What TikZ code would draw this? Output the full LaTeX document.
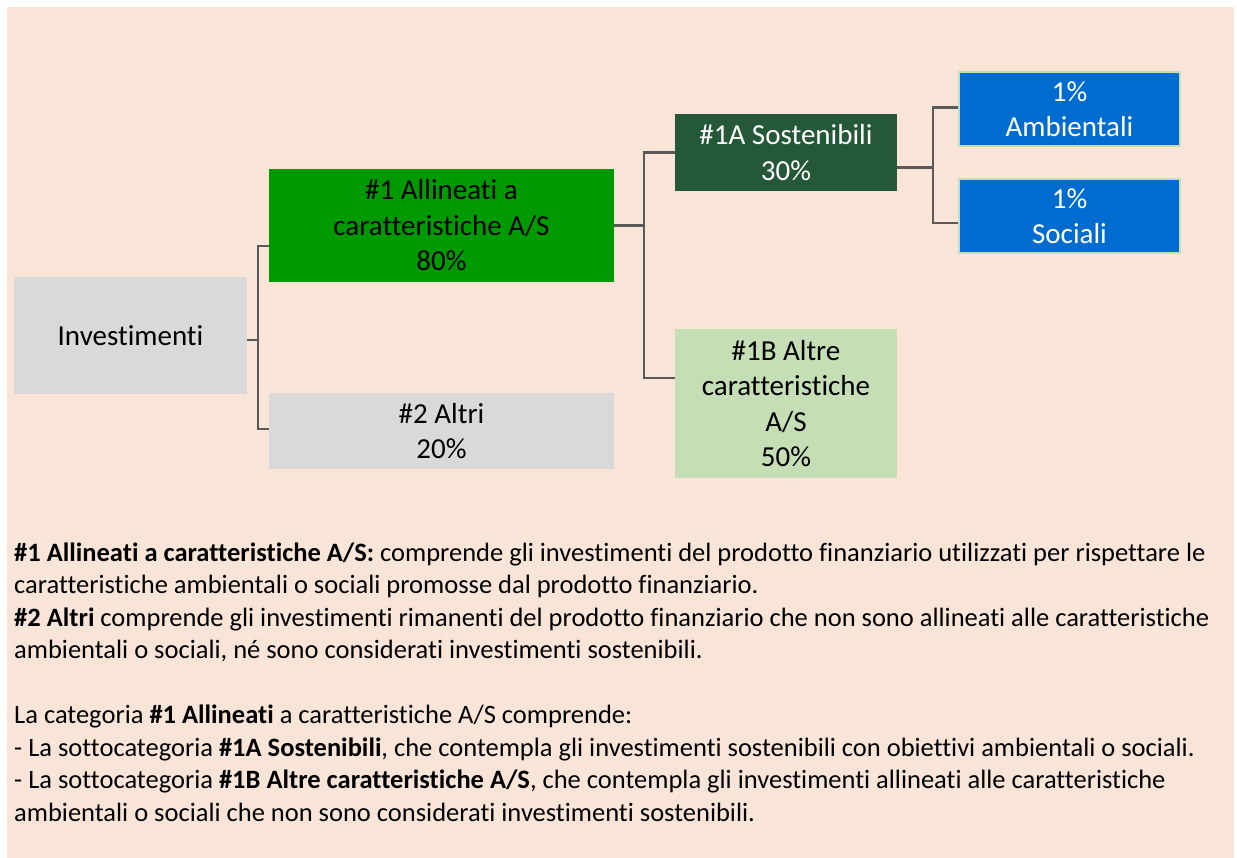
\documentclass[tikz,border=0pt]{standalone}
\usepackage{fontspec}
\setmainfont{Carlito}[RawFeature={-liga}]
\usepackage{tikz}
\definecolor{sfondo}{HTML}{F8E5D8}
\definecolor{grigio}{HTML}{D9D9D9}
\definecolor{verde}{HTML}{009900}
\definecolor{verdescuro}{HTML}{245838}
\definecolor{verdechiaro}{HTML}{C5DEB5}
\definecolor{blu}{HTML}{006CCF}
\definecolor{linea}{HTML}{595959}

\begin{document}
\begin{tikzpicture}[x=1pt, y=-1pt,
  box/.style={inner sep=0pt, align=center, font=\fontsize{29}{35.5}\selectfont},
  conn/.style={draw=linea, line width=2.5pt},
  riga/.style={anchor=base west, inner sep=0pt, font=\fontsize{26.5}{32.5}\selectfont}]
  \useasboundingbox (0,0) rectangle (1237,858);
  \fill[white] (0,0) rectangle (1237,858);
  \fill[sfondo] (7,7) rectangle (1234,858);
  % 1. Investimenti
  \node[box, fill=grigio, minimum width=233, minimum height=117] (inv) at (130.5,335.5) {Investimenti};
  % 2. Allineati / Altri
  \node[box, fill=verde, minimum width=345, minimum height=113] (all) at (441.5,225.5) {\#1 Allineati a\\caratteristiche A/S\\80\%};
  \node[box, fill=grigio, minimum width=345, minimum height=76] (altri) at (441.5,431) {\#2 Altri\\20\%};
  % 3. Sostenibili / Altre caratteristiche
  \node[box, fill=verdescuro, text=white, minimum width=222, minimum height=77] (sost) at (786,152.5) {\#1A Sostenibili\\30\%};
  \node[box, fill=verdechiaro, minimum width=222, minimum height=149] (altre) at (786,403.5) {\#1B Altre\\caratteristiche\\A/S\\50\%};
  % 4. Ambientali / Sociali
  \node[box, fill=blu, draw=verdechiaro, line width=2pt, text=white, minimum width=221, minimum height=74] (amb) at (1069.5,109) {1\%\\Ambientali};
  \node[box, fill=blu, draw=verdechiaro, line width=2pt, text=white, minimum width=221, minimum height=74] (soc) at (1069.5,216) {1\%\\Sociali};
  % collegamenti
  \draw[conn] ([yshift=-4.5pt]inv.east) -- ++(11,0) coordinate (j1);
  \draw[conn] ([yshift=-20.5pt]all.west) -| (j1) |- ([yshift=2pt]altri.west);
  \draw[conn] (all.east) -- ++(30,0) coordinate (j2);
  \draw[conn] (sost.west) -| (j2) |- ([yshift=25.5pt]altre.west);
  \draw[conn] ([yshift=-15pt]sost.east) -- ++(36,0) coordinate (j3);
  \draw[conn] ([yshift=1.5pt]amb.west) -| (j3) |- ([yshift=-7pt]soc.west);
  % 5. Legenda
  \node[riga] (t1) at (14,561) {\textbf{\#1 Allineati a caratteristiche A/S:} comprende gli investimenti del prodotto finanziario utilizzati per rispettare le};
  \node[riga] (t2) at (14,593.5) {caratteristiche ambientali o sociali promosse dal prodotto finanziario.};
  \node[riga] (t3) at (14,626) {\textbf{\#2 Altri} comprende gli investimenti rimanenti del prodotto finanziario che non sono allineati alle caratteristiche};
  \node[riga] (t4) at (14,658.5) {ambientali o sociali, né sono considerati investimenti sostenibili.};
  \node[riga] (t5) at (14,723) {La categoria \textbf{\#1 Allineati} a caratteristiche A/S comprende:};
  \node[riga] (t6) at (14,756) {- La sottocategoria \textbf{\#1A Sostenibili}, che contempla gli investimenti sostenibili con obiettivi ambientali o sociali.};
  \node[riga] (t7) at (14,788.5) {- La sottocategoria \textbf{\#1B Altre caratteristiche A/S}, che contempla gli investimenti allineati alle caratteristiche};
  \node[riga] (t8) at (14,821) {ambientali o sociali che non sono considerati investimenti sostenibili.};
\end{tikzpicture}
\end{document}
